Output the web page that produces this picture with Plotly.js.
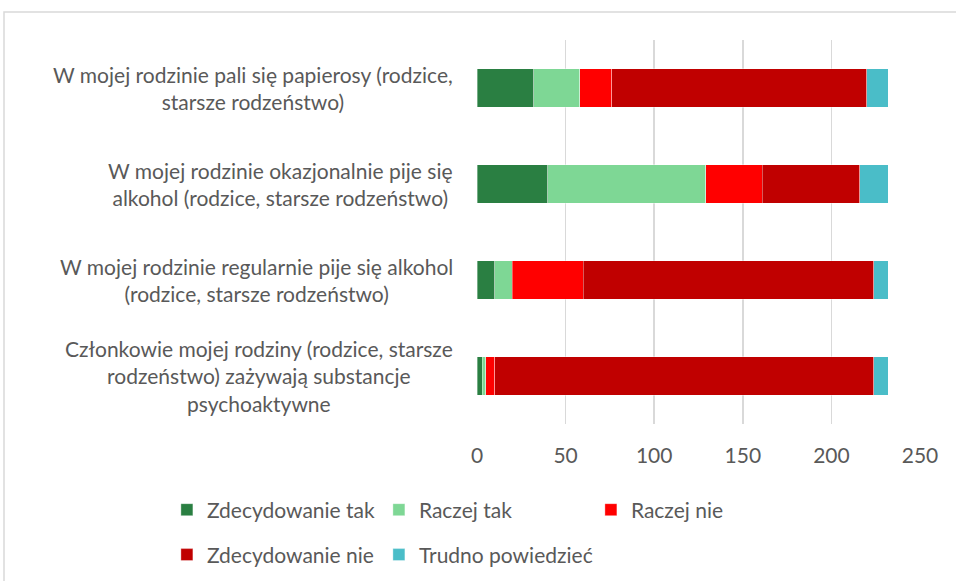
<!DOCTYPE html>
<html>
<head>
<meta charset="utf-8">
<script src="https://cdn.plot.ly/plotly-3.0.1.min.js"></script>
<style>html,body{margin:0;padding:0;background:#fff;}#chart{width:956px;height:581px;}</style>
</head>
<body>
<div id="chart"></div>
<script>
const categories = [
  "W mojej rodzinie pali się papierosy (rodzice,<br>starsze rodzeństwo)",
  "W mojej rodzinie okazjonalnie pije się<br>alkohol (rodzice, starsze rodzeństwo)",
  "W mojej rodzinie regularnie pije się alkohol<br>(rodzice, starsze rodzeństwo)",
  "Członkowie mojej rodziny (rodzice, starsze<br>rodzeństwo) zażywają substancje<br>psychoaktywne"
];
const seriesNames = ["Zdecydowanie tak", "Raczej tak", "Raczej nie", "Zdecydowanie nie", "Trudno powiedzieć"];
const zdecydowanieTak = [32, 40, 10, 3];
const raczejTak = [26, 89, 10, 2];
const raczejNie = [18, 32, 40, 5];
const zdecydowanieNie = [144, 55, 164, 214];
const trudnoPowiedziec = [12, 16, 8, 8];
const xTicks = [0, 50, 100, 150, 200, 250];

const seriesValues = [zdecydowanieTak, raczejTak, raczejNie, zdecydowanieNie, trudnoPowiedziec];
const colors = ["#2A7F42", "#7ED795", "#FF0000", "#C00000", "#4ABDC8"];
const legendIds = ["legend", "legend", "legend", "legend2", "legend2"];
const FONT = "Lato, 'Open Sans', sans-serif";
const TXT = "#595959";
const FS = 21;

const traces = seriesValues.map((vals, i) => ({
  type: "bar",
  orientation: "h",
  name: seriesNames[i],
  x: vals,
  y: categories,
  legend: legendIds[i],
  // fixed column spacing; last entry of each row wide enough not to clip its text
  legendwidth: (i === 2 || i === 4) ? 200 : 167,
  marker: {color: colors[i], line: {color: "rgba(255,255,255,0.45)", width: 0.8}},
  hoverinfo: "x+name"
}));

const legendCommon = {
  orientation: "h",
  xanchor: "left",
  yanchor: "middle",
  x: -0.70,
  entrywidth: 167,
  entrywidthmode: "pixels",
  font: {family: FONT, size: FS, color: TXT},
  bgcolor: "rgba(0,0,0,0)",
  traceorder: "normal"
};

const annotations = categories.map(c => ({
  xref: "paper", yref: "y", x: -0.05, y: c,
  xanchor: "right", yanchor: "middle", align: "center",
  text: c, showarrow: false,
  font: {family: FONT, size: FS, color: TXT}
}));

const layout = {
  width: 956, height: 581,
  margin: {l: 477, r: 36, t: 40, b: 157, autoexpand: false},
  paper_bgcolor: "#fff", plot_bgcolor: "#fff",
  barmode: "stack",
  bargap: 0.6,
  font: {family: FONT, size: FS, color: TXT},
  xaxis: {
    range: [0, 250],
    tickvals: xTicks,
    ticktext: xTicks.map(String),
    showgrid: true, gridcolor: "#D9D9D9", gridwidth: 1.5,
    zeroline: false, showline: false,
    ticks: "", ticklabelstandoff: 17,
    tickfont: {family: FONT, size: FS, color: TXT},
    fixedrange: true
  },
  yaxis: {
    autorange: "reversed",
    showticklabels: false, showgrid: false, zeroline: false, showline: false,
    fixedrange: true
  },
  legend: Object.assign({}, legendCommon, {y: -0.224}),
  legend2: Object.assign({}, legendCommon, {y: -0.341}),
  annotations: annotations,
  shapes: [{
    type: "rect", xref: "paper", yref: "paper",
    x0: (4 - 477) / 443, x1: (1000 - 477) / 443,
    y0: (424 - 640) / 384, y1: (424 - 12) / 384,
    line: {color: "#D9D9D9", width: 1.5}, fillcolor: "rgba(0,0,0,0)", layer: "below"
  }]
};

Plotly.newPlot("chart", traces, layout, {displayModeBar: false, staticPlot: true});
</script>
</body>
</html>
